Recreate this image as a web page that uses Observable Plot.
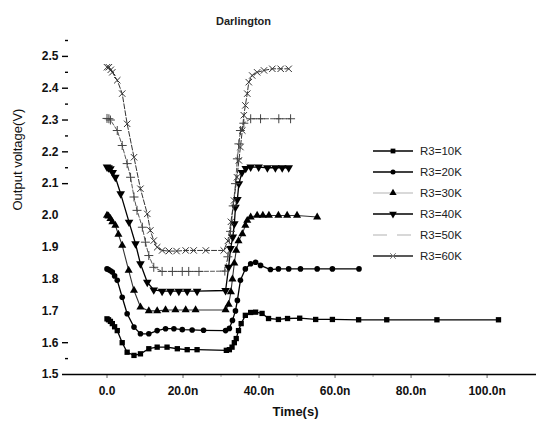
<!DOCTYPE html>
<html>
<head>
<meta charset="utf-8">
<script src="https://cdn.jsdelivr.net/npm/d3@7"></script>
<script src="https://cdn.jsdelivr.net/npm/@observablehq/plot@0.6"></script>
<style>
  html, body { margin: 0; padding: 0; background: #fff; }
  svg { font-family: "Liberation Sans", Arial, sans-serif; }
</style>
</head>
<body>
<div id="chart"></div>
<script>
// Darlington output voltage transients for several R3 values (time in ns, voltage in V)
const seriesNames = ["R3=10K", "R3=20K", "R3=30K", "R3=40K", "R3=50K", "R3=60K"];

const t10 = [0, 0.4, 0.9, 1.4, 2.0, 2.7, 4.0, 5.3, 7.1, 8.8, 11.0, 13.2, 15.8, 18.5, 21.1, 23.7, 31.4, 32.2, 32.9, 33.5, 34.0, 34.6, 35.3, 36.4, 37.8, 39.1, 40.8, 42.5, 45.1, 47.5, 50.7, 54.9, 59.3, 66.2, 73.6, 86.8, 103.0];
const v10 = [1.675, 1.672, 1.667, 1.660, 1.650, 1.638, 1.600, 1.570, 1.560, 1.565, 1.581, 1.586, 1.586, 1.581, 1.578, 1.578, 1.576, 1.578, 1.586, 1.600, 1.613, 1.638, 1.660, 1.686, 1.695, 1.696, 1.692, 1.676, 1.673, 1.676, 1.677, 1.673, 1.673, 1.672, 1.672, 1.672, 1.672];

const t20 = [0, 0.4, 0.9, 1.4, 2.0, 2.7, 4.0, 5.3, 7.1, 8.8, 11.0, 13.2, 15.4, 17.6, 19.8, 22.4, 25.4, 31.2, 32.2, 33.0, 33.8, 34.3, 35.1, 36.4, 37.8, 39.1, 40.4, 43.0, 45.1, 47.8, 50.9, 55.3, 59.3, 66.3];
const v20 = [1.832, 1.830, 1.826, 1.822, 1.810, 1.796, 1.743, 1.691, 1.649, 1.628, 1.628, 1.638, 1.644, 1.644, 1.641, 1.640, 1.639, 1.638, 1.645, 1.670, 1.700, 1.733, 1.796, 1.832, 1.848, 1.853, 1.843, 1.830, 1.832, 1.832, 1.832, 1.832, 1.832, 1.832];

const t30 = [0, 0.4, 0.9, 1.4, 2.2, 3.0, 4.0, 5.7, 7.1, 8.8, 11.0, 13.2, 15.4, 18.0, 20.7, 23.3, 31.2, 32.0, 32.6, 33.0, 33.5, 34.0, 34.6, 35.6, 36.4, 36.9, 37.8, 39.5, 41.0, 42.6, 45.1, 47.4, 50.0, 55.3];
const v30 = [2.000, 1.998, 1.990, 1.980, 1.969, 1.940, 1.906, 1.827, 1.764, 1.712, 1.700, 1.700, 1.703, 1.703, 1.703, 1.703, 1.703, 1.720, 1.760, 1.800, 1.850, 1.890, 1.920, 1.942, 1.969, 1.984, 1.995, 2.000, 2.000, 2.000, 2.000, 2.000, 2.000, 1.995];

const t40 = [0, 0.4, 0.9, 1.5, 2.2, 3.6, 5.8, 7.5, 8.8, 10.6, 12.3, 14.5, 16.7, 18.9, 21.1, 23.7, 31.2, 32.0, 32.5, 33.1, 33.5, 33.8, 34.3, 34.7, 35.5, 36.5, 37.8, 39.9, 42.2, 44.3, 46.1, 47.8];
const v40 = [2.152, 2.150, 2.147, 2.135, 2.120, 2.068, 1.979, 1.911, 1.848, 1.790, 1.766, 1.762, 1.762, 1.762, 1.762, 1.762, 1.764, 1.837, 1.896, 1.932, 1.974, 2.026, 2.050, 2.100, 2.135, 2.148, 2.152, 2.152, 2.150, 2.150, 2.150, 2.150];

const t50 = [0, 0.5, 0.9, 2.7, 4.0, 5.3, 6.2, 7.1, 7.9, 9.3, 10.1, 11.0, 12.3, 14.5, 17.2, 19.8, 21.5, 24.2, 31.0, 31.8, 32.5, 33.2, 33.8, 34.3, 34.7, 35.1, 36.0, 37.8, 40.4, 45.2, 48.3];
const v50 = [2.305, 2.304, 2.300, 2.267, 2.220, 2.163, 2.120, 2.058, 2.016, 1.963, 1.916, 1.874, 1.837, 1.824, 1.824, 1.824, 1.824, 1.824, 1.825, 1.870, 1.950, 2.030, 2.100, 2.178, 2.225, 2.267, 2.290, 2.304, 2.304, 2.304, 2.304];

const t60 = [0, 0.5, 1.0, 1.4, 2.7, 4.0, 5.3, 7.1, 8.8, 10.6, 11.4, 12.3, 13.2, 14.5, 16.3, 18.3, 20.7, 22.8, 26.0, 30.7, 31.8, 32.6, 33.4, 34.2, 34.7, 35.1, 35.6, 36.0, 36.4, 36.9, 37.3, 38.2, 39.5, 41.3, 43.5, 45.7, 47.8];
const v60 = [2.466, 2.466, 2.458, 2.450, 2.425, 2.383, 2.288, 2.183, 2.084, 2.005, 1.953, 1.921, 1.900, 1.890, 1.888, 1.888, 1.890, 1.890, 1.890, 1.890, 1.920, 1.980, 2.047, 2.120, 2.173, 2.215, 2.267, 2.315, 2.346, 2.383, 2.419, 2.440, 2.450, 2.456, 2.461, 2.461, 2.461];

// Axis tick values and labels
const yLabelTicks = [1.5, 1.6, 1.7, 1.8, 1.9, 2.0, 2.1, 2.2, 2.3, 2.4, 2.5];
const yMajorTicks = [1.6, 2.1, 2.2, 2.3, 2.4, 2.5];
const yMinorTicks = [1.55, 2.15, 2.25, 2.35, 2.45, 2.55];
const xMajorTicks = [0, 20, 40, 60, 80, 100];
const xMinorTicks = [10, 30, 50, 70, 90];
const titleText = "Darlington";
const xLabelText = "Time(s)";
const yLabelText = "Output voltage(V)";

// Per-series drawing style
const styles = [
  {line: "#000", lineWidth: 1.3, dash: null, symbol: "square", fill: "#000", stroke: "none", r: 3, rotate: 0, legendLine: "#000"},
  {line: "#000", lineWidth: 1.3, dash: null, symbol: "circle", fill: "#000", stroke: "none", r: 2.8, rotate: 0, legendLine: "#000"},
  {line: "#333", lineWidth: 1.1, dash: null, symbol: "triangle", fill: "#000", stroke: "none", r: 3, rotate: 0, legendLine: "#ccc"},
  {line: "#000", lineWidth: 1.3, dash: null, symbol: "triangle", fill: "#000", stroke: "none", r: 3.2, rotate: 180, legendLine: "#000"},
  {line: "#555", lineWidth: 1, dash: "4,2", symbol: "plus", fill: "none", stroke: "#444", r: 3, rotate: 0, legendLine: "#ccc"},
  {line: "#333", lineWidth: 1, dash: "5,2", symbol: "times", fill: "none", stroke: "#333", r: 3, rotate: 0, legendLine: "#222"}
];

const times = [t10, t20, t30, t40, t50, t60];
const volts = [v10, v20, v30, v40, v50, v60];
const series = seriesNames.map((name, i) => times[i].map((t, j) => ({name, t, v: volts[i][j]})));

const marks = [];
series.forEach((data, i) => {
  const s = styles[i];
  marks.push(Plot.line(data, {x: "t", y: "v", stroke: s.line, strokeWidth: s.lineWidth, strokeDasharray: s.dash}));
});
series.forEach((data, i) => {
  const s = styles[i];
  marks.push(Plot.dot(data, {x: "t", y: "v", symbol: () => s.symbol, r: s.r, fill: s.fill, stroke: s.stroke, strokeWidth: 1, rotate: s.rotate}));
});

const fmtX = d => d === 0 ? "0.0" : d.toFixed(1) + "n";
const noText = () => "";

const chart = Plot.plot({
  width: 536,
  height: 432,
  marginLeft: 68,
  marginRight: 0,
  marginTop: 40,
  marginBottom: 58,
  style: {fontFamily: "'Liberation Sans', Arial, sans-serif", background: "#fff"},
  x: {domain: [-10.13, 113.0]},
  y: {domain: [1.5, 2.55]},
  symbol: {type: "identity"},
  marks: [
    // y axis: labels, then major and minor tick marks without text
    Plot.axisY(yLabelTicks, {anchor: "left", tickSize: 0, tickPadding: 10, tickFormat: d => d.toFixed(1), label: null, fontSize: 12, fontWeight: "bold", fill: "#111"}),
    Plot.axisY(yMajorTicks, {anchor: "left", tickSize: 6, tickFormat: noText, label: null, strokeWidth: 1.4}),
    Plot.axisY(yMinorTicks, {anchor: "left", tickSize: 3, tickFormat: noText, label: null, strokeWidth: 1.4}),
    // x axis: labelled major ticks and unlabelled minor ticks
    Plot.axisX(xMajorTicks, {anchor: "bottom", tickSize: 4, tickPadding: 8, tickFormat: fmtX, label: null, fontSize: 12, fontWeight: "bold", fill: "#111", stroke: "#666"}),
    Plot.axisX(xMinorTicks, {anchor: "bottom", tickSize: 3, tickFormat: noText, label: null, stroke: "#aaa"}),
    Plot.ruleY([1.5], {stroke: "#000", strokeWidth: 1.6, insetLeft: -6}),
    ...marks,
    Plot.text([titleText], {frameAnchor: "top", dy: -23, dx: -59, fontSize: 11, fontWeight: "bold", fill: "#222"}),
    Plot.text([xLabelText], {frameAnchor: "bottom", dy: 41, dx: -7, fontSize: 13, fontWeight: "bold", fill: "#111"}),
    Plot.text([yLabelText], {frameAnchor: "left", dx: -51, dy: 3, rotate: -90, fontSize: 13, fill: "#111"})
  ]
});

// Legend block on the right of the plotting area
const legend = d3.select(chart).append("g").attr("transform", "translate(373,151)");
seriesNames.forEach((name, i) => {
  const s = styles[i];
  const row = legend.append("g").attr("transform", `translate(0,${i * 21})`);
  row.append("line").attr("x1", 0).attr("x2", 40).attr("y1", 0).attr("y2", 0)
    .attr("stroke", s.legendLine).attr("stroke-width", 1.3)
    .attr("stroke-dasharray", i === 4 ? "14,10" : null);
  const sym = {square: d3.symbolSquare, circle: d3.symbolCircle, triangle: d3.symbolTriangle, plus: d3.symbolPlus, times: d3.symbolTimes}[s.symbol];
  if (i !== 4) {
    row.append("path")
      .attr("d", d3.symbol(sym, Math.PI * s.r * s.r * 0.8)())
      .attr("transform", `translate(20,0) rotate(${s.rotate})`)
      .attr("fill", s.fill === "none" ? "#fff" : s.fill)
      .attr("stroke", s.stroke === "none" ? null : "#777");
  }
  row.append("text").attr("x", 47).attr("y", 0).attr("dy", "0.35em")
    .attr("text-anchor", "start")
    .attr("font-size", 11.5).attr("fill", "#222").text(name);
});

document.getElementById("chart").appendChild(chart);
</script>
</body>
</html>
